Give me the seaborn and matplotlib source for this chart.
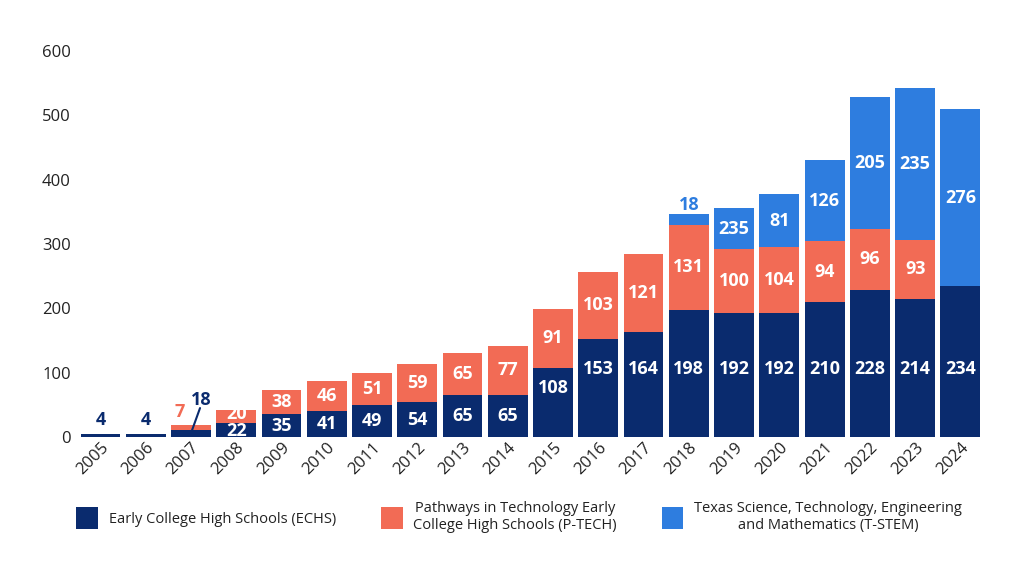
import pandas as pd
import numpy as np
import seaborn as sns
import matplotlib.pyplot as plt

years = [str(y) for y in range(2005, 2025)]
# bar heights
echs = [4, 4, 11, 22, 35, 41, 49, 54, 65, 65, 108, 153, 164, 198, 192, 192, 210, 228, 214, 234]
ptech = [0, 0, 7, 20, 38, 46, 51, 59, 65, 77, 91, 103, 121, 131, 100, 104, 94, 96, 93, 0]
tstem = [0, 0, 0, 0, 0, 0, 0, 0, 0, 0, 0, 0, 0, 18, 64, 81, 126, 205, 235, 276]
# labels as printed on the chart
echs_lbl = ["4", "4", "18", "22", "35", "41", "49", "54", "65", "65", "108", "153", "164",
            "198", "192", "192", "210", "228", "214", "234"]
ptech_lbl = ["", "", "7", "20", "38", "46", "51", "59", "65", "77", "91", "103", "121",
             "131", "100", "104", "94", "96", "93", ""]
tstem_lbl = [""] * 13 + ["18", "235", "81", "126", "205", "235", "276"]

navy = "#0a2b6e"
salmon = "#f26b55"
blue = "#2e7ddf"

df = pd.DataFrame({"year": years, "ECHS": echs, "PTECH": ptech, "TSTEM": tstem})
df["b2"] = df["ECHS"] + df["PTECH"]

sns.set_style("white")
plt.rcParams["font.family"] = ["Open Sans", "DejaVu Sans"]

fig = plt.figure(figsize=(10.24, 5.76), dpi=100)
ax = fig.add_axes([0.076, 0.2413, 0.884, 0.6925])

w = 0.88
sns.barplot(data=df, x="year", y="ECHS", color=navy, width=w, saturation=1, ax=ax,
            linewidth=0, label="Early College High Schools (ECHS)")
sns.barplot(data=df, x="year", y="PTECH", bottom=df["ECHS"], color=salmon, width=w,
            saturation=1, ax=ax, linewidth=0,
            label="Pathways in Technology Early\nCollege High Schools (P-TECH)")
sns.barplot(data=df, x="year", y="TSTEM", bottom=df["b2"], color=blue, width=w,
            saturation=1, ax=ax, linewidth=0,
            label="Texas Science, Technology, Engineering\nand Mathematics (T-STEM)")

lab = dict(ha="center", va="center", fontsize=13, fontweight="bold")
for i in range(len(years)):
    e, p, t = echs[i], ptech[i], tstem[i]
    # ECHS
    if e >= 20:
        yy = e / 2 if e < 100 else min(0.7 * e, 105)
        if e < 25:
            yy = 9
        ax.text(i, yy, echs_lbl[i], color="white", **lab)
    # P-TECH
    if p >= 20:
        yy = e + p / 2
        if p < 25:
            yy = e + p / 2 + 4
        ax.text(i, yy, ptech_lbl[i], color="white", **lab)
    # T-STEM
    if t >= 40:
        ax.text(i, e + p + t / 2, tstem_lbl[i], color="white", **lab)
    elif t > 0:
        ax.text(i, e + p + t + 14, tstem_lbl[i], color=blue, **lab)

# small bars labelled outside
ax.text(0, 26, echs_lbl[0], color=navy, **lab)
ax.text(1, 26, echs_lbl[1], color=navy, **lab)
ax.text(1.75, 39, ptech_lbl[2], color=salmon, **lab)
ax.text(2.22, 58, echs_lbl[2], color=navy, **lab)
ax.plot([2.0, 2.2], [6, 45], color=navy, lw=1.5)

ax.set_ylim(0, 620)
ax.set_xlim(-0.5, len(years) - 0.5)
ax.set_yticks([0, 100, 200, 300, 400, 500, 600])
ax.set_xlabel("")
ax.set_ylabel("")
ax.tick_params(axis="y", labelsize=12, colors="#222222", length=0, pad=5)
ax.tick_params(axis="x", labelsize=12, colors="#222222", length=0, pad=2)
for t in ax.get_xticklabels():
    t.set_rotation(45)
    t.set_ha("right")
    t.set_rotation_mode("anchor")
sns.despine(ax=ax, left=True, bottom=True)
ax.legend().remove()

h, l = ax.get_legend_handles_labels()
leg = fig.legend(h[:3], l[:3], loc="center", bbox_to_anchor=(0.507, 0.102), ncol=3,
                 frameon=False, fontsize=10.5, handlelength=1.5, handleheight=1.9,
                 columnspacing=3.05, handletextpad=0.75)
for t in leg.get_texts():
    t.set_multialignment("center")
    t.set_color("#222222")

fig.savefig("out.png", dpi=100)
